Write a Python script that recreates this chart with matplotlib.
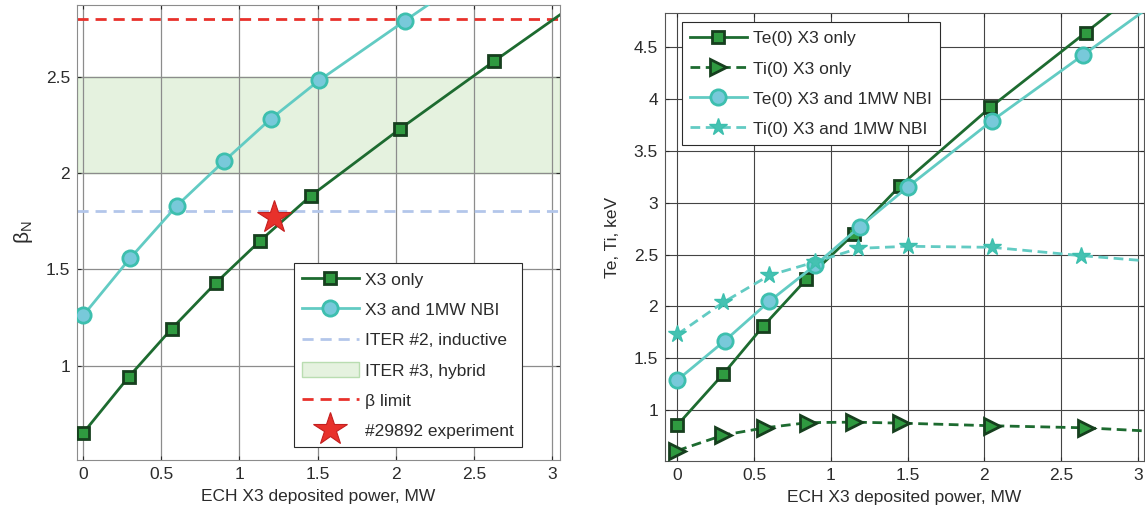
import numpy as np
import matplotlib
matplotlib.use("Agg")
import matplotlib.pyplot as plt
from matplotlib.patches import Patch
from matplotlib.lines import Line2D

plt.rcParams["font.family"] = ["Liberation Sans", "DejaVu Sans"]
plt.rcParams["font.size"] = 12.5
plt.rcParams["mathtext.fontset"] = "custom"
plt.rcParams["mathtext.rm"] = "Liberation Sans"
plt.rcParams["mathtext.it"] = "Liberation Sans:italic"

# ---- left panel data (last point of each line only continues the line) ----
p_x3 = [0, 0.29, 0.565, 0.85, 1.13, 1.455, 2.03, 2.63, 3.05]
beta_x3 = [0.65, 0.94, 1.19, 1.43, 1.646, 1.88, 2.23, 2.58, 2.82]
p_nbi = [0, 0.30, 0.60, 0.90, 1.20, 1.51, 2.06, 2.40]
beta_nbi = [1.26, 1.557, 1.83, 2.06, 2.28, 2.48, 2.79, 2.98]
iter2_beta = 1.8
iter3_band = (2.0, 2.5)
beta_limit = 2.8
exp_p, exp_beta = 1.22, 1.77

# ---- right panel data ----
p_te_x3 = [0, 0.30, 0.56, 0.84, 1.15, 1.45, 2.04, 2.66, 3.05]
te_x3 = [0.856, 1.35, 1.81, 2.26, 2.70, 3.16, 3.92, 4.64, 5.09]
p_ti_x3 = [0, 0.30, 0.57, 0.85, 1.15, 1.46, 2.05, 2.66, 3.05]
ti_x3 = [0.61, 0.76, 0.83, 0.88, 0.885, 0.875, 0.85, 0.83, 0.80]
p_te_nbi = [0, 0.31, 0.60, 0.90, 1.19, 1.50, 2.05, 2.64, 3.05]
te_nbi = [1.29, 1.67, 2.05, 2.40, 2.77, 3.15, 3.79, 4.42, 4.86]
p_ti_nbi = [0, 0.30, 0.60, 0.90, 1.18, 1.50, 2.05, 2.63, 3.05]
ti_nbi = [1.73, 2.04, 2.30, 2.43, 2.56, 2.58, 2.57, 2.49, 2.44]

x_ticks = [0, 0.5, 1, 1.5, 2, 2.5, 3]
x_tick_labels = ["0", "0.5", "1", "1.5", "2", "2.5", "3"]

dark_green = "#1d6b30"
green_face = "#2f9a40"
green_edge = "#163f1e"
teal = "#62cbc3"
teal_face = "#78c9da"
teal_edge = "#3dbfae"
star_face = "#45c2b2"
red = "#e8312b"
light_blue = "#b3c6ea"
text_col = "#2b2b2b"
fs = 12.5

fig = plt.figure(figsize=(11.45, 5.11), dpi=100)
ax1 = fig.add_axes([0.0672, 0.0998, 0.4218, 0.890])
ax2 = fig.add_axes([0.5808, 0.0978, 0.4183, 0.877])

# -------- left panel --------
ax1.axhspan(*iter3_band, facecolor="#e5f2df", edgecolor="#b9ddb1", lw=1, zorder=0)
ax1.axhline(iter2_beta, color=light_blue, lw=2, ls=(0, (4, 2.5)), zorder=1)
ax1.axhline(beta_limit, color=red, lw=2, ls=(0, (4, 2.5)), zorder=1)
ax1.plot(p_x3, beta_x3, color=dark_green, lw=2, marker="s", ms=9,
         mfc=green_face, mec=green_edge, mew=2, markevery=slice(0, -1), zorder=3)
ax1.plot(p_nbi, beta_nbi, color=teal, lw=2, marker="o", ms=11,
         mfc=teal_face, mec=teal_edge, mew=2, markevery=slice(0, -1), zorder=3)
ax1.plot([exp_p], [exp_beta], marker="*", ms=25, color=red, mec="#c41f1f",
         mew=0.8, ls="none", zorder=4)

ax1.set_xlim(-0.04, 3.05)
ax1.set_ylim(0.51, 2.87)
ax1.set_xticks(x_ticks)
ax1.set_xticklabels(x_tick_labels)
ax1.set_yticks([1, 1.5, 2, 2.5])
ax1.set_yticklabels(["1", "1.5", "2", "2.5"])
ax1.grid(True, color="#8c8c8c", lw=0.9)
ax1.set_axisbelow(True)
ax1.tick_params(direction="in", top=True, right=True, length=3,
                labelsize=fs, colors=text_col, pad=5)
for s in ax1.spines.values():
    s.set_color("#8c8c8c")
ax1.set_xlabel("ECH X3 deposited power, MW", fontsize=fs, color=text_col, labelpad=5)
ax1.set_ylabel(r"$\mathregular{\beta_N}$", fontsize=15, color=text_col, labelpad=8)

handles1 = [
    Line2D([], [], color=dark_green, lw=2, marker="s", ms=9, mfc=green_face,
           mec=green_edge, mew=2),
    Line2D([], [], color=teal, lw=2, marker="o", ms=11, mfc=teal_face,
           mec=teal_edge, mew=2),
    Line2D([], [], color=light_blue, lw=2, ls=(0, (4, 2.5))),
    Patch(facecolor="#e5f2df", edgecolor="#b9ddb1"),
    Line2D([], [], color=red, lw=2, ls=(0, (4, 2.5))),
    Line2D([], [], color=red, marker="*", ms=25, ls="none", mec="#c41f1f", mew=0.8),
]
labels1 = ["X3 only", "X3 and 1MW NBI", "ITER #2, inductive", "ITER #3, hybrid",
           "\u03b2 limit", "#29892 experiment"]
leg1 = ax1.legend(handles1, labels1, loc="lower right", bbox_to_anchor=(0.921, 0.0286),
                  handlelength=3.3, handleheight=1.0, labelspacing=0.78, fancybox=False,
                  framealpha=1, edgecolor=text_col, fontsize=fs, borderpad=0.45,
                  handletextpad=0.35, borderaxespad=0)
leg1.get_frame().set_linewidth(0.8)
for t in leg1.get_texts():
    t.set_color(text_col)

# -------- right panel --------
ax2.plot(p_te_x3, te_x3, color=dark_green, lw=2, marker="s", ms=9,
         mfc=green_face, mec=green_edge, mew=2, markevery=slice(0, -1), zorder=3,
         label="Te(0) X3 only")
ax2.plot(p_ti_x3, ti_x3, color=dark_green, lw=2, ls=(0, (3.5, 2)), marker=">", ms=12,
         mfc=green_face, mec=green_edge, mew=2, markevery=slice(0, -1), zorder=3,
         label="Ti(0) X3 only")
ax2.plot(p_te_nbi, te_nbi, color=teal, lw=2, marker="o", ms=11,
         mfc=teal_face, mec=teal_edge, mew=2, markevery=slice(0, -1), zorder=3,
         label="Te(0) X3 and 1MW NBI")
ax2.plot(p_ti_nbi, ti_nbi, color=teal, lw=2, ls=(0, (3.5, 2)), marker="*", ms=13,
         mfc=star_face, mec=teal_edge, mew=1, markevery=slice(0, -1), zorder=3,
         label="Ti(0) X3 and 1MW NBI")

ax2.set_xlim(-0.08, 3.04)
ax2.set_ylim(0.51, 4.83)
ax2.set_xticks(x_ticks)
ax2.set_xticklabels(x_tick_labels)
ax2.set_yticks([1, 1.5, 2, 2.5, 3, 3.5, 4, 4.5])
ax2.set_yticklabels(["1", "1.5", "2", "2.5", "3", "3.5", "4", "4.5"])
ax2.grid(True, color="#444444", lw=0.8)
ax2.set_axisbelow(True)
ax2.tick_params(direction="in", top=True, right=True, length=3,
                labelsize=fs, colors=text_col, pad=5)
for s in ax2.spines.values():
    s.set_color("#555555")
ax2.set_xlabel("ECH X3 deposited power, MW", fontsize=fs, color=text_col, labelpad=5)
ax2.set_ylabel("Te, Ti, keV", fontsize=fs, color=text_col, labelpad=10)

leg2 = ax2.legend(loc="upper left", bbox_to_anchor=(0.035, 0.98), handlelength=3.3,
                  handleheight=1.0, labelspacing=0.78, fancybox=False, framealpha=1,
                  edgecolor=text_col, fontsize=fs, borderpad=0.45,
                  handletextpad=0.35, borderaxespad=0)
leg2.get_frame().set_linewidth(0.8)
for t in leg2.get_texts():
    t.set_color(text_col)

fig.savefig("out.png", dpi=100)
